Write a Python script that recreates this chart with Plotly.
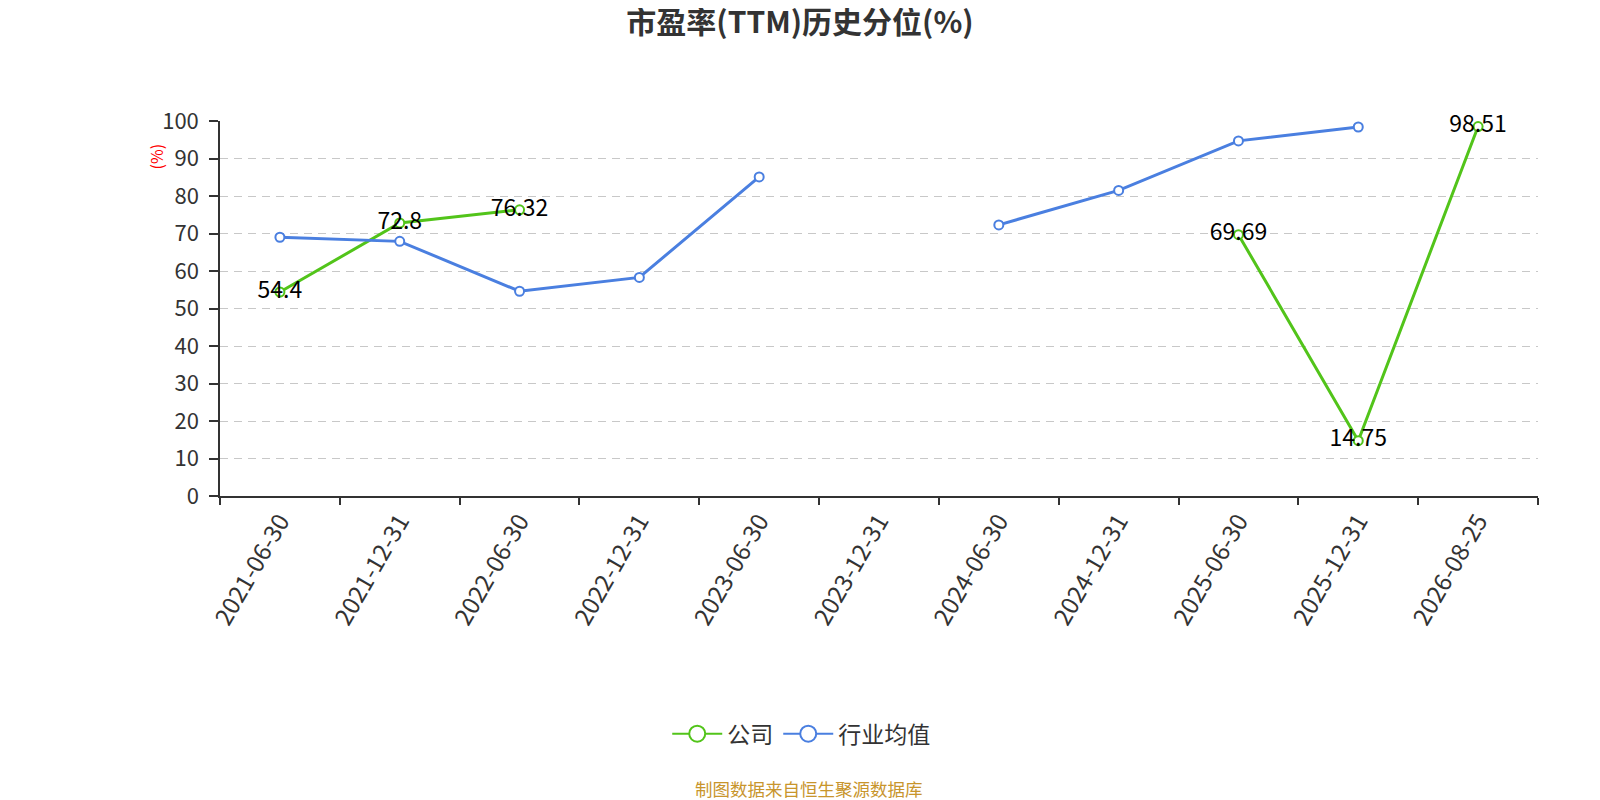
import plotly.graph_objects as go

categories = ["2021-06-30", "2021-12-31", "2022-06-30", "2022-12-31", "2023-06-30",
              "2023-12-31", "2024-06-30", "2024-12-31", "2025-06-30", "2025-12-31", "2026-08-25"]
company = [54.4, 72.8, 76.32, None, None, None, None, None, 69.69, 14.75, 98.51]
industry = [69.0, 67.9, 54.6, 58.3, 85.1, None, 72.3, 81.5, 94.7, 98.4, None]
company_labels = ["54.4", "72.8", "76.32", "", "", "", "", "", "69.69", "14.75", "98.51"]

GREEN = "#52c41a"
BLUE = "#4a7fe0"
FONT = "Noto Sans CJK SC, Microsoft YaHei, sans-serif"

fig = go.Figure()
fig.add_trace(go.Scatter(
    x=categories, y=company, name="公司", mode="lines+markers+text",
    text=company_labels, textposition="middle center",
    textfont=dict(size=23, color="#000", family=FONT),
    line=dict(color=GREEN, width=3),
    marker=dict(symbol="circle", size=9, color="white", line=dict(color=GREEN, width=2)),
    connectgaps=False, cliponaxis=False, showlegend=False,
))
fig.add_trace(go.Scatter(
    x=categories, y=industry, name="行业均值", mode="lines+markers",
    line=dict(color=BLUE, width=3),
    marker=dict(symbol="circle", size=9, color="white", line=dict(color=BLUE, width=2)),
    connectgaps=False, cliponaxis=False, showlegend=False,
))
# legend entries
for nm, col in (("公司", GREEN), ("行业均值", BLUE)):
    fig.add_trace(go.Scatter(
        x=[None], y=[None], name=nm, mode="lines+markers",
        line=dict(color=col, width=2),
        marker=dict(symbol="circle", size=16, color="white", line=dict(color=col, width=2)),
    ))

fig.update_layout(
    width=1600, height=800,
    paper_bgcolor="white", plot_bgcolor="white",
    margin=dict(l=212, r=70, t=113, b=312, autoexpand=False),
    font=dict(family=FONT, color="#333"),
    title=dict(text="<b>市盈率(TTM)历史分位(%)</b>", x=0.495, xref="container", xanchor="center",
               y=1, yref="container", yanchor="top", pad=dict(t=4),
               font=dict(size=30, color="#333", family=FONT)),
    showlegend=True,
    legend=dict(orientation="h", x=0.441, xanchor="center", y=-0.634, yanchor="middle",
                font=dict(size=23, color="#333", family=FONT), itemwidth=50),
    xaxis=dict(type="category", range=[-0.5, 10.5], tickson="boundaries",
               ticks="outside", ticklen=7, tickcolor="#333", tickwidth=1.5,
               showline=True, linecolor="#333", linewidth=1.5, showgrid=False,
               tickangle=-60, tickfont=dict(size=24, color="#333", family=FONT)),
    yaxis=dict(range=[0, 100], dtick=10, ticks="outside", ticklen=9, tickcolor="#333", tickwidth=1.5,
               ticklabelstandoff=6,
               showline=True, linecolor="#333", linewidth=1.5,
               showgrid=True, gridcolor="#c8c8c8", griddash="8px,6px", gridwidth=1.4,
               zeroline=False, tickfont=dict(size=22, color="#333", family=FONT)),
    annotations=[
        dict(text="(%)", xref="paper", yref="paper", x=-0.059, y=0.946, showarrow=False,
             textangle=-90, font=dict(size=16, color="red", family=FONT)),
        dict(text="制图数据来自恒生聚源数据库", xref="paper", yref="paper", x=0.447, y=-0.781,
             xanchor="center", yanchor="middle", showarrow=False,
             font=dict(size=17.5, color="#c8952c", family=FONT)),
    ],
)

fig.write_html("out.html")
